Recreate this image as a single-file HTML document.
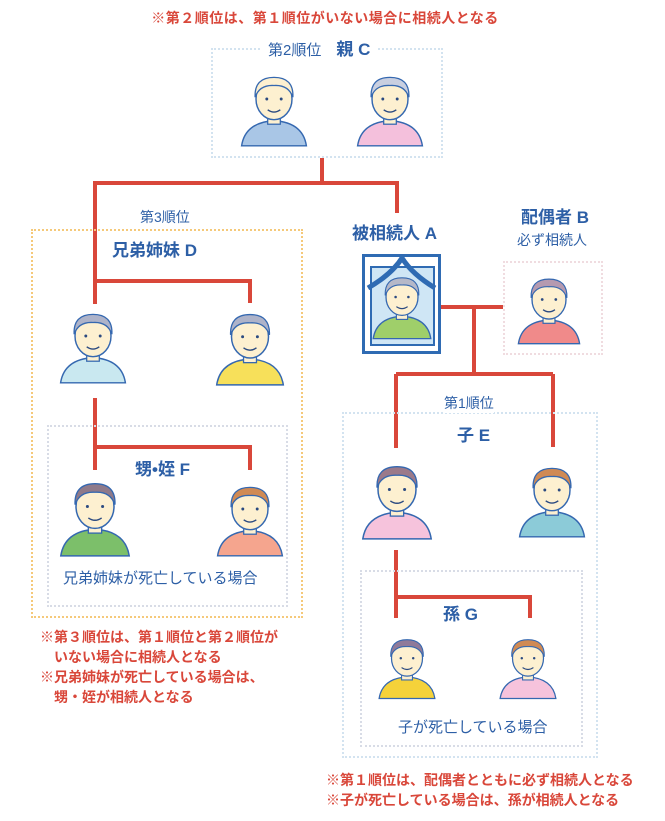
<!DOCTYPE html>
<html><head><meta charset="utf-8"><style>
body{margin:0;width:665px;height:821px;background:#fff;position:relative;overflow:hidden;font-family:"Liberation Sans","Noto Sans CJK JP",sans-serif;}
.a{position:absolute;white-space:nowrap}
.r{color:#d9473a;font-weight:bold;font-size:14px;line-height:20px}
.b{color:#2d5fa6}
.bb{color:#2d5fa6;font-weight:bold;font-size:17px}
.box{position:absolute;border-style:dotted;border-width:2px}
</style></head><body>
<svg width="0" height="0" style="position:absolute">
<defs>
<symbol id="p" viewBox="0 0 80 84">
<path d="M4 84 Q8 58 40 56 Q72 58 76 84 Z" fill="currentColor" stroke="#3568b0" stroke-width="1.6"/>
<rect x="33" y="46" width="14" height="14" fill="#fdf0d0" stroke="#3568b0" stroke-width="1.4"/>
<ellipse cx="40" cy="32" rx="20" ry="23" fill="#fdf0d0" stroke="#3568b0" stroke-width="1.6"/>
<path d="M19 30 Q18 8 40 8 Q62 8 61 30 Q56 16 40 17 Q24 16 19 30 Z" fill="var(--h)" stroke="#3568b0" stroke-width="1.4"/>
<circle cx="32" cy="32" r="1.6" fill="#2b4a80"/><circle cx="48" cy="32" r="1.6" fill="#2b4a80"/>
<path d="M33 44 Q40 49 47 44" fill="none" stroke="#2b4a80" stroke-width="1.5"/>
</symbol>
</defs></svg>

<div class="a r" style="left:0;width:650px;text-align:center;top:8px;letter-spacing:0.5px">※第２順位は、第１順位がいない場合に相続人となる</div>

<div class="box" style="left:211px;top:48px;width:228px;height:106px;border-color:#d3e3f0"></div>
<div class="a" style="left:262px;top:38px;background:#fff;padding:0 6px;font-size:15px;line-height:24px"><span class="b">第2順位</span>　<span class="bb">親 C</span></div>

<svg class="a" style="left:0;top:0" width="665" height="821">
<g stroke="#d9473a" stroke-width="4" fill="none">
<path d="M322 158 V183 M93 183 H399 M95 183 V304 M95 281 H250 V303 M397 183 V213"/>
<path d="M95 398 V470 M95 447 H250 V470"/>
<path d="M441 307 H503 M474 307 V374 M396 374 H553 M396 374 V448 M553 374 V447"/>
<path d="M396 550 V618 M396 597 H530 V618"/>
</g></svg>

<div class="box" style="left:31px;top:229px;width:268px;height:385px;border-color:#f5c97a"></div>
<div class="a b" style="left:140px;top:207px;font-size:14px;background:#fff">第3順位</div>
<div class="a bb" style="left:112px;top:236px;background:#fff">兄弟姉妹 D</div>

<div class="box" style="left:47px;top:425px;width:237px;height:178px;border-color:#d8dce6"></div>
<div class="a bb" style="left:135px;top:455px;background:#fff">甥•姪 F</div>
<div class="a b" style="left:63px;top:567px;font-size:15px">兄弟姉妹が死亡している場合</div>

<div class="a r" style="left:40px;top:627px">※第３順位は、第１順位と第２順位が<br>　いない場合に相続人となる<br>※兄弟姉妹が死亡している場合は、<br>　甥・姪が相続人となる</div>

<div class="a bb" style="left:352px;top:219px">被相続人 A</div>
<div class="a bb" style="left:521px;top:203px">配偶者 B</div>
<div class="a b" style="left:517px;top:230px;font-size:14px">必ず相続人</div>
<div class="box" style="left:503px;top:261px;width:96px;height:90px;border-color:#f0dce0"></div>

<div class="a" style="left:362px;top:254px;width:73px;height:94px;border:3px solid #2f6bb3;background:#fff"></div>
<div class="a" style="left:370px;top:266px;width:61px;height:76px;border:2px solid #2f6bb3;background:#cfe6f5"></div>
<svg class="a" style="left:362px;top:254px" width="79" height="40"><path d="M6 34 Q30 20 40 4 Q50 20 73 34" fill="none" stroke="#2f6bb3" stroke-width="5"/></svg>
<svg class="a" style="left:370px;top:270px;color:#9fcf6a;--h:#b5b8c8" width="64" height="70"><use href="#p"/></svg>

<div class="box" style="left:342px;top:412px;width:252px;height:342px;border-color:#d3e3f0"></div>
<div class="a b" style="left:444px;top:393px;font-size:14px;background:#fff">第1順位</div>
<div class="a bb" style="left:457px;top:421px;background:#fff">子 E</div>

<div class="box" style="left:360px;top:570px;width:219px;height:173px;border-color:#d8dce6"></div>
<div class="a bb" style="left:443px;top:600px;background:#fff">孫 G</div>
<div class="a b" style="left:398px;top:716px;font-size:15px">子が死亡している場合</div>

<div class="a r" style="left:326px;top:770px">※第１順位は、配偶者とともに必ず相続人となる<br>※子が死亡している場合は、孫が相続人となる</div>

<svg class="a" style="left:238px;top:68px;color:#a9c6e6;--h:#fdf0d0" width="72" height="80"><use href="#p"/></svg>
<svg class="a" style="left:354px;top:68px;color:#f4c0dc;--h:#c9cfe0" width="72" height="80"><use href="#p"/></svg>
<svg class="a" style="left:57px;top:305px;color:#c9e8f0;--h:#aeb3c9" width="72" height="80"><use href="#p"/></svg>
<svg class="a" style="left:213px;top:305px;color:#f7e05a;--h:#aeb3c9" width="74" height="82"><use href="#p"/></svg>
<svg class="a" style="left:57px;top:475px;color:#7cbf6a;--h:#8f7a8a" width="76" height="82"><use href="#p"/></svg>
<svg class="a" style="left:214px;top:478px;color:#f5a58e;--h:#d08a54" width="72" height="80"><use href="#p"/></svg>
<svg class="a" style="left:515px;top:270px;color:#f08a8a;--h:#b59ab0" width="68" height="76"><use href="#p"/></svg>
<svg class="a" style="left:359px;top:458px;color:#f6c3dc;--h:#9b7a8a" width="76" height="82"><use href="#p"/></svg>
<svg class="a" style="left:516px;top:458px;color:#8ccbd8;--h:#d08a54" width="72" height="82"><use href="#p"/></svg>
<svg class="a" style="left:376px;top:626px;color:#f5d23a;--h:#8f7a9a" width="62" height="80"><use href="#p"/></svg>
<svg class="a" style="left:497px;top:626px;color:#f6c3dc;--h:#d08a54" width="62" height="80"><use href="#p"/></svg>
</body></html>
